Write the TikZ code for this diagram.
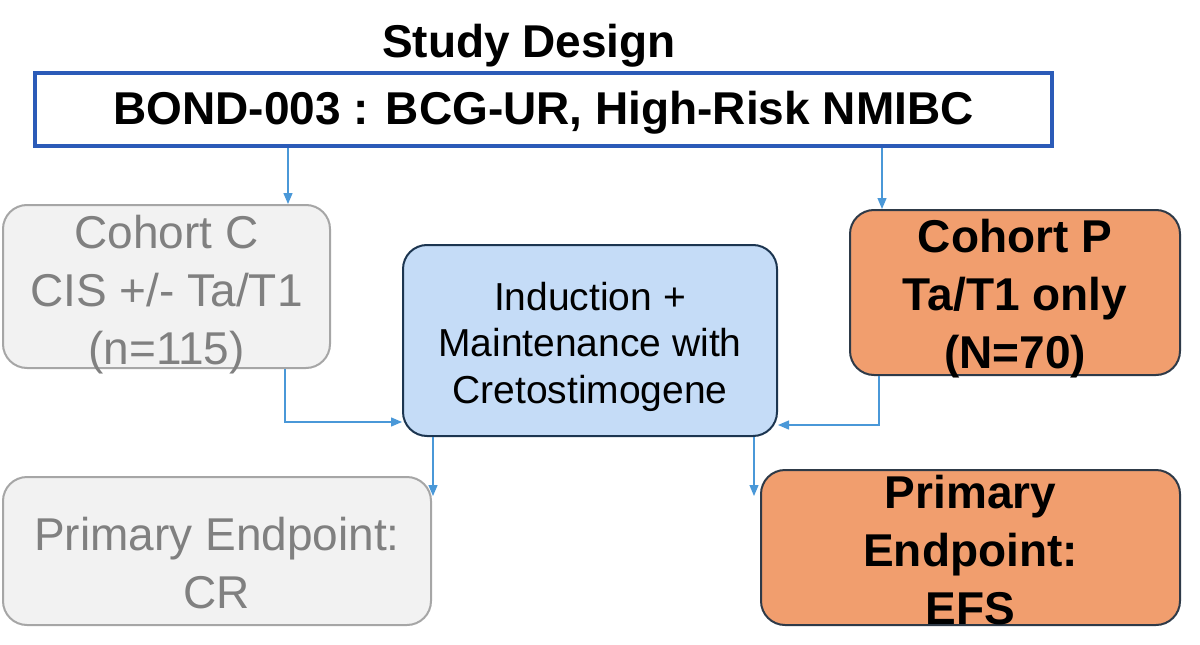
\documentclass[tikz,border=0pt]{standalone}
\usepackage{fontspec}
\setmainfont{Liberation Sans}
\usetikzlibrary{arrows.meta,calc}
\definecolor{topblue}{HTML}{2B5BB8}
\definecolor{connblue}{HTML}{4A98D8}
\definecolor{grayfill}{HTML}{F2F2F2}
\definecolor{grayline}{HTML}{A6A6A6}
\definecolor{graytext}{HTML}{808080}
\definecolor{midfill}{HTML}{C5DCF7}
\definecolor{navy}{HTML}{1C3550}
\definecolor{salmon}{HTML}{F19E6E}
\definecolor{salmonline}{HTML}{2E3A48}
\tikzset{
  box/.style={rounded corners=24pt, inner sep=0pt, line width=2pt},
  graybox/.style={box, fill=grayfill, draw=grayline},
  salmonbox/.style={box, fill=salmon, draw=salmonline},
  midbox/.style={box, fill=midfill, draw=navy},
  graytxt/.style={align=center, inner sep=0pt, text=graytext, font=\fontsize{46}{58}\selectfont},
  salmontxt/.style={align=center, inner sep=0pt, text=black, font=\fontsize{46}{58}\selectfont\bfseries},
  midtxt/.style={align=center, inner sep=0pt, text=black, font=\fontsize{39}{46.5}\selectfont},
  conn/.style={draw=connblue, line width=1.3pt, -{Triangle[length=11pt,width=9pt]}},
}
\begin{document}
\begin{tikzpicture}[x=1pt,y=-1pt]
\useasboundingbox (0,0) rectangle (1200,645);
\node[font=\fontsize{46}{50}\selectfont\bfseries] (title) at (529,46) {Study Design};
\node[draw=topblue, line width=4pt, minimum width=1017pt, minimum height=73pt,
  inner sep=0pt] (top) at (543.5,109.5) {};
\node[font=\fontsize{46}{50}\selectfont\bfseries, inner sep=0pt] (toptxt) at ([yshift=-3pt]top.center)
  {BOND-003 : BCG-UR, High-Risk NMIBC};
\node[graybox, minimum width=327pt, minimum height=163pt] (cC) at (166.5,286.5) {};
\node[graytxt] (cCt) at ([yshift=-8pt]cC.center) {Cohort C\\CIS +/- Ta/T1\\(n=115)};
\node[midbox, minimum width=374pt, minimum height=191pt] (mid) at (590,340.5) {};
\node[midtxt] (midt) at ([yshift=-6pt]mid.center) {Induction +\\Maintenance with\\Cretostimogene};
\node[salmonbox, minimum width=330pt, minimum height=165pt] (cP) at (1015,292.5) {};
\node[salmontxt] (cPt) at ([yshift=-6pt]cP.center) {Cohort P\\Ta/T1 only\\(N=70)};
\node[graybox, minimum width=428pt, minimum height=148pt] (cr) at (217,551) {};
\node[graytxt] (crt) at ([yshift=-12pt]cr.center) {Primary Endpoint:\\CR};
\node[salmonbox, minimum width=419pt, minimum height=155pt] (efs) at (970.5,547.5) {};
\node[salmontxt] (efst) at ([yshift=-3pt]efs.center) {Primary\\Endpoint:\\EFS};
% connectors
\draw[conn] ([xshift=-43pt]cC.north east |- top.south) -- ([xshift=-43pt]cC.north east);
\draw[conn] ([xshift=33pt]cP.north west |- top.south) -- ([xshift=33pt]cP.north west);
\draw[conn] ([xshift=-46pt]cC.south east) |- ([yshift=-81.5pt]mid.west);
\draw[conn] ([xshift=30pt]cP.south west) |- ([yshift=-84.5pt]mid.east);
\coordinate (crin) at ([xshift=3pt,yshift=-20pt]cr.north east);
\coordinate (efsin) at ([xshift=-8pt,yshift=-27pt]efs.north west);
\draw[conn] ([xshift=31pt]mid.south west) -- ([xshift=31pt]mid.south west |- crin);
\draw[conn] ([xshift=-24pt]mid.south east) -- ([xshift=-24pt]mid.south east |- efsin);
\end{tikzpicture}
\end{document}
